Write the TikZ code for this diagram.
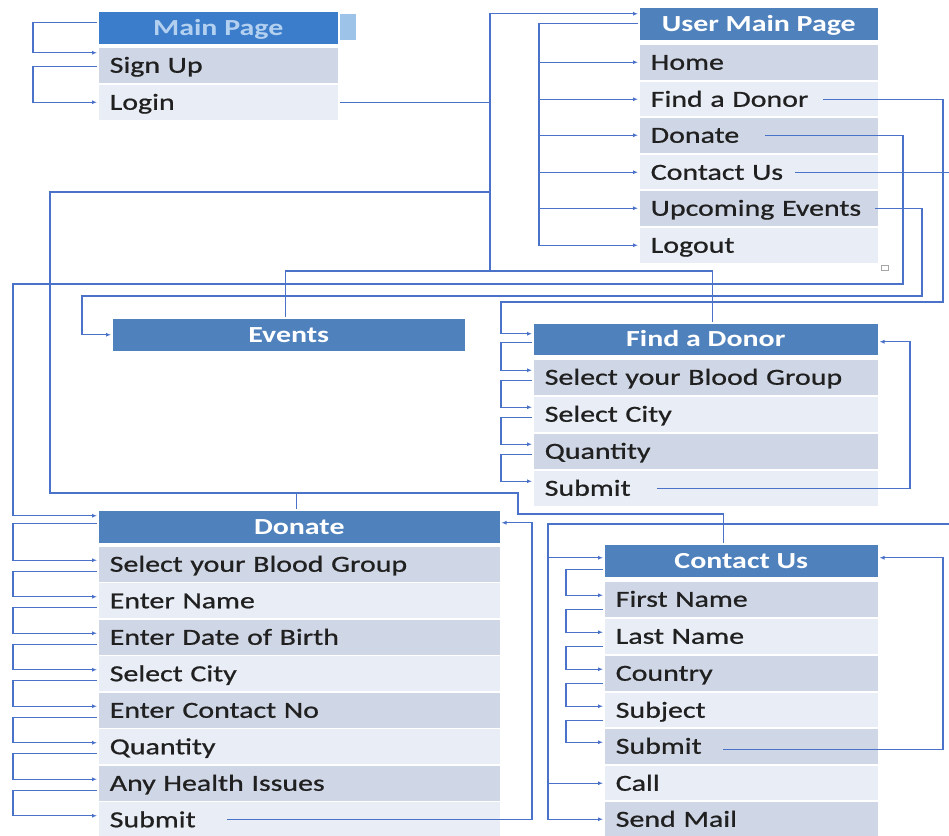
\documentclass[tikz,border=0pt]{standalone}
\usepackage{fontspec}
\newfontfamily\calfam[FakeStretch=1.3]{Carlito}
\newfontfamily\calreg[FakeStretch=1.3,FakeBold=0.8]{Carlito}
\usetikzlibrary{arrows.meta}
\definecolor{hdrblue}{HTML}{4F81BD}
\definecolor{mpblue}{HTML}{3B7DCA}
\definecolor{mptext}{HTML}{B3D0F0}
\definecolor{sqblue}{HTML}{9DC3E9}
\definecolor{rowdark}{HTML}{CFD6E5}
\definecolor{rowlight}{HTML}{E9EDF5}
\definecolor{lineblue}{HTML}{4A72C8}
\definecolor{txt}{HTML}{202020}
\newcommand{\myrowfont}{\calreg\fontsize{23}{27}\selectfont}
\newcommand{\myhdrfont}{\calfam\bfseries\fontsize{23}{27}\selectfont}
\begin{document}
\begin{tikzpicture}[x=1pt,y=-1pt,
  hdr/.style={fill=hdrblue, draw=white, line width=1.5pt, text=white, font=\myhdrfont, anchor=north west, inner sep=0pt, minimum height=34pt, text height=20pt, text depth=5pt},
  rowbase/.style={draw=white, line width=1.5pt, text=txt, font=\myrowfont, anchor=north west, inner xsep=12pt, inner ysep=0pt, minimum height=37pt, align=left, text height=20pt, text depth=5pt},
  rd/.style={rowbase, fill=rowdark, text width=#1},
  rl/.style={rowbase, fill=rowlight, text width=#1},
  conn/.style={draw=lineblue, line width=1.1pt},
  arr/.style={conn, -{Latex[length=5pt,width=4pt]}}]
\useasboundingbox (0,0) rectangle (949,835);
\clip (0,0) rectangle (949,835);
\fill[white] (0,0) rectangle (949,835);

% Main Page
\node[hdr, fill=mpblue, text=mptext, minimum width=241pt] (mp) at (97,10) {Main Page};
\node[fill=sqblue, anchor=north west, minimum width=16pt, minimum height=26pt, inner sep=0pt] (mpside) at (340,14) {};
\node[rd=217pt] (mpsign) at (97,46) {Sign Up};
\node[rl=217pt] (mplogin) at (97,83) {Login};

% User Main Page
\node[hdr, minimum width=240pt] (ump) at (638,6) {User Main Page};
\node[rd=216pt] (umphome) at (638,43) {Home};
\node[rl=216pt] (umpfind) at (638,80) {Find a Donor};
\node[rd=216pt] (umpdonate) at (638,116) {Donate};
\node[rl=216pt] (umpcontact) at (638,153) {Contact Us};
\node[rd=216pt] (umpevents) at (638,189) {Upcoming Events};
\node[rl=216pt] (umplogout) at (638,226) {Logout};
\node[draw=gray!70, line width=0.8pt, minimum width=7pt, minimum height=5pt, inner sep=0pt] (marker) at (885,268) {};

% Events
\node[hdr, minimum width=354pt] (ev) at (111,317) {Events};

% Find a Donor
\node[hdr, minimum width=346pt, minimum height=33pt] (fd) at (532,322) {Find a Donor};
\node[rd=322pt] (fdblood) at (532,358) {Select your Blood Group};
\node[rl=322pt] (fdcity) at (532,395) {Select City};
\node[rd=322pt] (fdqty) at (532,432) {Quantity};
\node[rl=322pt] (fdsubmit) at (532,469) {Submit};

% Donate
\node[hdr, minimum width=403pt] (dn) at (97,509) {Donate};
\node[rd=379pt] (dnblood) at (97,545) {Select your Blood Group};
\node[rl=379pt] (dnname) at (97,581.5) {Enter Name};
\node[rd=379pt] (dndob) at (97,618) {Enter Date of Birth};
\node[rl=379pt] (dncity) at (97,654.5) {Select City};
\node[rd=379pt] (dncontact) at (97,691) {Enter Contact No};
\node[rl=379pt] (dnqty) at (97,727.5) {Quantity};
\node[rd=379pt] (dnhealth) at (97,764) {Any Health Issues};
\node[rl=379pt] (dnsubmit) at (97,800.5) {Submit};

% Contact Us
\node[hdr, minimum width=275pt] (cu) at (603,543) {Contact Us};
\node[rd=251pt] (cufirst) at (603,580) {First Name};
\node[rl=251pt] (culast) at (603,617) {Last Name};
\node[rd=251pt] (cucountry) at (603,654) {Country};
\node[rl=251pt] (cusubject) at (603,691) {Subject};
\node[rd=251pt] (cusubmit) at (603,727) {Submit};
\node[rl=251pt] (cucall) at (603,764) {Call};
\node[rd=251pt] (cumail) at (603,800) {Send Mail};

% ---- connectors ----
% main page loops
\draw[arr] ([yshift=5.5pt]mp.west) -- ++(-64,0) |- ([yshift=12.5pt]mpsign.west);
\draw[arr] ([yshift=-1.5pt]mpsign.west) -- ++(-64,0) |- (mplogin.west);

% login trunk
\coordinate (tL) at (490,0);
\coordinate (j1) at (490,271);
\coordinate (k1) at (490,192);
\coordinate (k2) at (50,493);
\coordinate (k3) at (518,514);
\draw[arr] (mplogin.east) -- (mplogin.east -| tL) |- ([yshift=10pt]ump.west);
\draw[conn] (mplogin.east -| tL) -- (j1);
\draw[conn] ([xshift=-3pt]ev.north) |- (j1) -| ([xshift=7pt]fd.north);
\draw[conn] (k1) -| (k2) -| (k3) -| ([xshift=-17.5pt]cu.north);
\draw[conn] ([xshift=-2.5pt]dn.north) -- ([xshift=-2.5pt]dn.north |- k2);

% user main page internal
\coordinate (tU) at (539,0);
\draw[arr] (ump.west) -- (ump.west -| tU) |- (umplogout.west);
\foreach \n in {umphome,umpfind,umpdonate,umpcontact,umpevents}
  \draw[arr] (\n.west -| tU) -- (\n.west);

% user main page outgoing
\coordinate (rf1) at (943,302); \coordinate (rf2) at (501,302);
\draw[arr] ([xshift=185pt]umpfind.west) -| (rf1) -- (rf2) |- ([yshift=5.5pt]fd.west);
\coordinate (rd1) at (903,284); \coordinate (rd2) at (13,284);
\draw[arr] ([xshift=127pt]umpdonate.west) -| (rd1) -- (rd2) |- ([yshift=11pt]dn.west);
\coordinate (rc1) at (958,524); \coordinate (rc2) at (548,524);
\draw[arr] ([xshift=157pt]umpcontact.west) -| (rc1) -- (rc2) |- (cumail.west);
\draw[arr] ([yshift=3pt]cu.west -| rc2) -- ([yshift=3pt]cu.west);
\draw[arr] (cucall.west -| rc2) -- (cucall.west);
\coordinate (re1) at (922,296); \coordinate (re2) at (82,296);
\draw[arr] ([xshift=237pt]umpevents.west) -| (re1) -- (re2) |- (ev.west);

% find a donor loops
\foreach \a/\b in {fd/fdblood,fdblood/fdcity,fdcity/fdqty,fdqty/fdsubmit}
  \draw[arr] ([yshift=-3pt]\a.west) -- ++(-31,0) |- ([yshift=7pt]\b.west);
\draw[arr] ([xshift=125pt]fdsubmit.west) -- ++(253,0) |- ([yshift=-2.5pt]fd.east);

% donate loops
\draw[arr] ([yshift=3pt]dn.west) -- ++(-84,0) |- ([yshift=4pt]dnblood.west);
\foreach \a/\b in {dnblood/dnname,dnname/dndob,dndob/dncity,dncity/dncontact,dncontact/dnqty,dnqty/dnhealth,dnhealth/dnsubmit}
  \draw[arr] ([yshift=-7pt]\a.west) -- ++(-84,0) |- ([yshift=4pt]\b.west);
\draw[arr] ([xshift=130pt]dnsubmit.west) -- ++(305,0) |- ([yshift=4pt]dn.east);

% contact us loops
\draw[arr] ([yshift=-9pt]cu.west) -- ++(-37,0) |- ([yshift=4pt]cufirst.west);
\foreach \a/\b in {cufirst/culast,culast/cucountry,cucountry/cusubject,cusubject/cusubmit}
  \draw[arr] ([yshift=-10pt]\a.west) -- ++(-37,0) |- ([yshift=4pt]\b.west);
\draw[arr] ([xshift=120pt,yshift=-3pt]cusubmit.west) -- ++(220,0) |- ([yshift=3pt]cu.east);
\end{tikzpicture}
\end{document}
